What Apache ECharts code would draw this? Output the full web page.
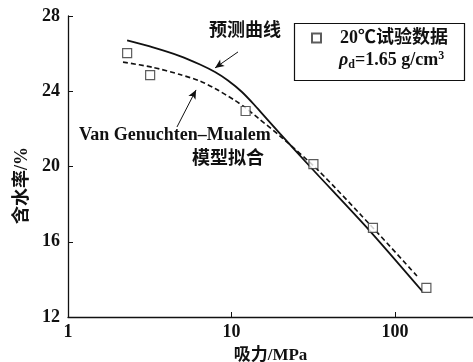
<!DOCTYPE html>
<html><head><meta charset="utf-8">
<script src="https://cdn.jsdelivr.net/npm/echarts@6/dist/echarts.min.js"></script>
<style>html,body{margin:0;padding:0;background:#fff}#c{width:473px;height:362px}</style>
</head><body><div id="c"></div>
<script>
const suction = [2.3, 3.18, 12.2, 31.7, 73.3, 155.6];
const moisture = [26.03, 24.86, 22.95, 20.13, 16.74, 13.55];
const predX = [2.3, 3.31, 4.84, 6.42, 7.93, 9.52, 11.59, 13.92, 16.49, 19.8, 30.2, 70.3, 148.3];
const predY = [26.70, 26.33, 25.87, 25.42, 25.02, 24.57, 23.96, 23.24, 22.52, 21.75, 20.00, 16.57, 13.33];
const vgX = [2.17, 3.31, 4.84, 6.42, 7.93, 10.5, 12.09, 14.53, 19.8, 33.8, 75.5, 136.3];
const vgY = [25.55, 25.27, 24.89, 24.54, 24.15, 23.51, 23.14, 22.58, 21.62, 19.81, 16.62, 14.18];
const xTicks = [1, 10, 100];
const yTicks = [12, 16, 20, 24, 28];

const FONT = "'Liberation Serif', 'Noto Sans CJK SC', serif";
const zip = (a, b) => a.map((v, i) => [v, b[i]]);
const chart = echarts.init(document.getElementById('c'));
chart.setOption({
  animation: false,
  backgroundColor: '#fff',
  grid: { left: 68, top: 16, right: 0, bottom: 45, containLabel: false, outerBoundsMode: 'none' },
  xAxis: {
    type: 'log', logBase: 10, min: 1, max: 300,
    name: '吸力/MPa', nameLocation: 'middle', nameGap: 30,
    nameTextStyle: { fontFamily: FONT, fontWeight: 'bold', fontSize: 17, color: '#111' },
    axisLine: { lineStyle: { color: '#111', width: 1.3 } },
    axisTick: { inside: true, length: 5, lineStyle: { color: '#111' } },
    minorTick: { show: false },
    splitLine: { show: false },
    axisLabel: { fontFamily: FONT, fontWeight: 'bold', fontSize: 18, color: '#111', margin: 6,
      showMaxLabel: false,
      formatter: v => xTicks.includes(Math.round(v)) ? String(Math.round(v)) : '' }
  },
  yAxis: {
    type: 'value', min: 12, max: 28, interval: 4,
    axisLine: { show: true, lineStyle: { color: '#111', width: 1.3 } },
    axisTick: { show: true, inside: true, length: 5, lineStyle: { color: '#111' } },
    splitLine: { show: false },
    axisLabel: { fontFamily: FONT, fontWeight: 'bold', fontSize: 18, color: '#111', margin: 8,
      formatter: v => yTicks.includes(v) ? String(v) : '' }
  },
  legend: {
    left: 311, top: 29, itemWidth: 9, itemHeight: 9, padding: 0,
    data: [{ name: '20℃试验数据', icon: 'rect' }],
    textStyle: { fontFamily: FONT, fontWeight: 'bold', fontSize: 18, color: '#111', padding: [0, 0, 0, 14] }
  },
  graphic: [
    { type: 'rect', shape: { x: 294.5, y: 23.5, width: 170, height: 57 }, style: { fill: 'none', stroke: '#111', lineWidth: 1.2 } },
    { type: 'text', left: 339, top: 50, style: { text: '{i|ρ}{sub|d}=1.65 g/cm{sup|3}', rich: {
      i: { fontFamily: FONT, fontStyle: 'italic', fontWeight: 'bold', fontSize: 18, fill: '#111' },
      sub: { fontFamily: FONT, fontWeight: 'bold', fontSize: 12, fill: '#111', padding: [9, 0, 0, 0] },
      sup: { fontFamily: FONT, fontWeight: 'bold', fontSize: 12, fill: '#111', padding: [0, 0, 9, 0] }
    }, fontFamily: FONT, fontWeight: 'bold', fontSize: 18, fill: '#111' } },
    { type: 'text', left: 209, top: 22, style: { text: '预测曲线', fontFamily: FONT, fontWeight: 'bold', fontSize: 18, fill: '#111' } },
    { type: 'text', left: 79, top: 126, style: { text: 'Van Genuchten–Mualem', fontFamily: FONT, fontWeight: 'bold', fontSize: 18, fill: '#111' } },
    { type: 'text', left: 192, top: 150, style: { text: '模型拟合', fontFamily: FONT, fontWeight: 'bold', fontSize: 18, fill: '#111' } },
    { type: 'text', left: 13, top: 147, rotation: Math.PI / 2, style: { text: '含水率/%', fontFamily: FONT, fontWeight: 'bold', fontSize: 18, fill: '#111' } }
  ],
  series: [
    { name: '预测曲线', type: 'line', data: zip(predX, predY), showSymbol: false, smooth: 0.25,
      lineStyle: { color: '#111', width: 1.8 },
      markLine: { silent: true, symbolSize: [6, 9], lineStyle: { color: '#111', width: 1, type: 'solid' }, label: { show: false },
        data: [
          [{ coord: [10.96, 26.09], symbol: 'none' }, { coord: [7.93, 25.24], symbol: 'arrow' }],
          [{ coord: [4.64, 22.1], symbol: 'none' }, { coord: [6.07, 24.07], symbol: 'arrow' }]
        ] } },
    { name: 'VG', type: 'line', data: zip(vgX, vgY), showSymbol: false, smooth: 0.25,
      lineStyle: { color: '#111', width: 1.6, type: [5, 3] } },
    { name: '20℃试验数据', type: 'scatter', data: zip(suction, moisture), symbol: 'rect', symbolSize: 9,
      itemStyle: { color: '#fff', borderColor: '#333', borderWidth: 1.2 }, z: 5 }
  ]
});
</script></body></html>
